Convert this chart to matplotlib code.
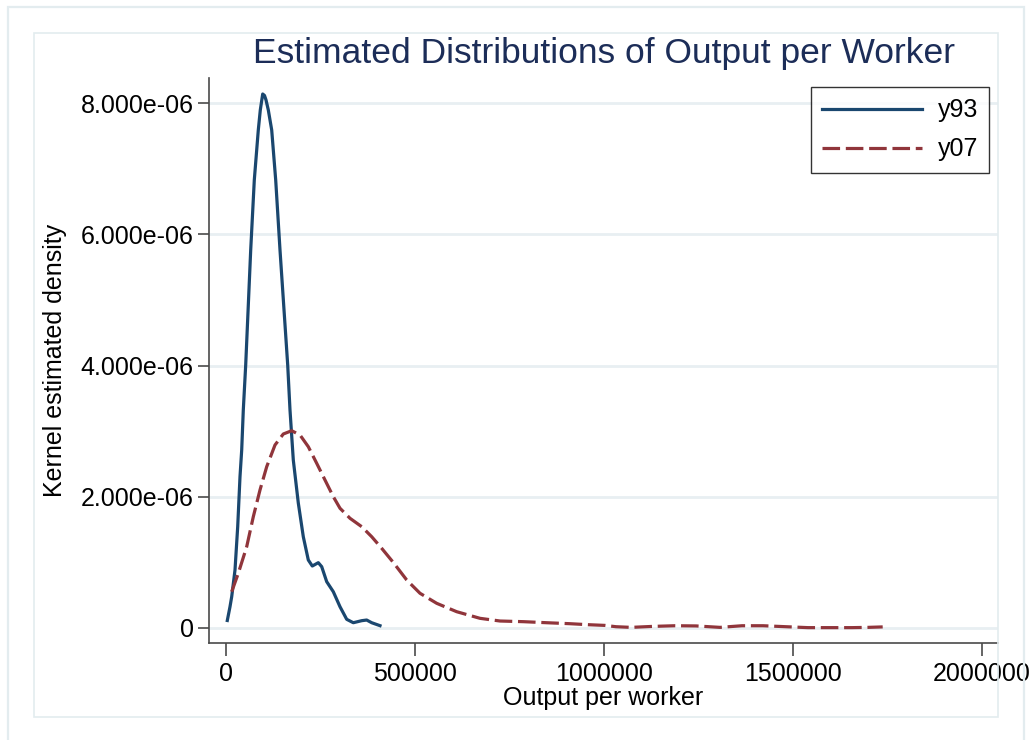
import matplotlib
matplotlib.use("Agg")
import matplotlib.pyplot as plt
from matplotlib.patches import Rectangle
from matplotlib.ticker import FuncFormatter

plt.rcParams['font.family'] = ['Liberation Sans', 'DejaVu Sans']

# Kernel density estimates, output per worker
y93_x = [3439, 10582, 15079, 23810, 30952, 37037, 41534, 45767, 52116, 65344,
         74868, 85450, 90741, 97090, 101852, 105820, 111905, 120899, 131481, 142857,
         163227, 169312, 178042, 191270, 204497, 217725, 228307, 244180, 253175, 266402,
         283862, 301587, 319312, 336772, 358994, 372222, 385449, 407407]
y93_d = [0.110, 0.320, 0.473, 0.880, 1.541, 2.304, 2.711, 3.321, 4.008, 5.762,
         6.830, 7.593, 7.898, 8.142, 8.119, 8.051, 7.898, 7.593, 6.830, 5.762,
         4.008, 3.321, 2.558, 1.902, 1.388, 1.033, 0.941, 0.992, 0.931, 0.702,
         0.549, 0.320, 0.128, 0.076, 0.107, 0.117, 0.076, 0.031]

y07_x = [15079, 32540, 54762, 72222, 89947, 107672, 129630, 151587, 173809, 195767,
         217725, 239946, 261905, 283862, 301587, 328042, 358994, 385449, 411904, 442592,
         478042, 513227, 557407, 610317, 671957, 724867, 786507, 848412, 910052, 957671,
         1002645, 1031745, 1071428, 1129629, 1187830, 1243385, 1306877, 1365078, 1420634, 1481480,
         1539681, 1597882, 1656083, 1698411, 1737290]
y07_d = [0.549, 0.830, 1.236, 1.693, 2.101, 2.456, 2.787, 2.955, 3.005, 2.940,
         2.761, 2.508, 2.253, 1.999, 1.822, 1.669, 1.541, 1.388, 1.211, 0.995,
         0.728, 0.525, 0.372, 0.244, 0.143, 0.102, 0.092, 0.076, 0.061, 0.046,
         0.035, 0.015, 0.005, 0.020, 0.030, 0.027, 0.005, 0.030, 0.030, 0.015,
         0.001, 0.001, 0.001, 0.005, 0.012]

x_ticks = [0, 500000, 1000000, 1500000, 2000000]
y_ticks = [0, 2e-6, 4e-6, 6e-6, 8e-6]

navy = '#1a476f'
maroon = '#90353b'
frame = '#e3ecef'
axis_col = '#4a4a4a'

fig = plt.figure(figsize=(10.34, 7.40), dpi=100)
W, H = 1034, 740

# graph region and plot region frames
fig.patches.append(Rectangle((8 / W, -0.05), (1024 - 8) / W, 733 / H + 0.05,
                             transform=fig.transFigure, fill=False,
                             edgecolor=frame, linewidth=1.6, zorder=0))
fig.patches.append(Rectangle((34 / W, (H - 717) / H), (998 - 34) / W, (717 - 33) / H,
                             transform=fig.transFigure, fill=False,
                             edgecolor=frame, linewidth=1.2, zorder=0))

ax = fig.add_axes([209 / W, (H - 643) / H, (998 - 209) / W, (643 - 78) / H])
ax.set_facecolor('none')

ax.plot(y93_x, [d * 1e-6 for d in y93_d], color=navy, linewidth=2.3, label='y93', zorder=3)
ax.plot(y07_x, [d * 1e-6 for d in y07_d], color=maroon, linewidth=2.3,
        dashes=(5.5, 1.8), label='y07', zorder=4)

ax.set_xlim(-44974, 2042326)
ax.set_ylim(-0.2334e-6, 8.386e-6)
ax.set_xticks(x_ticks)
ax.set_yticks(y_ticks)
ax.xaxis.set_major_formatter(FuncFormatter(lambda v, p: f'{int(round(v))}'))
ax.yaxis.set_major_formatter(FuncFormatter(lambda v, p: '0' if v == 0 else f'{v:.3e}'))

ax.yaxis.grid(True, color='#e8eff2', linewidth=2.0, zorder=0)
ax.set_axisbelow(True)

for side in ['top', 'right']:
    ax.spines[side].set_visible(False)
for side in ['left', 'bottom']:
    ax.spines[side].set_color(axis_col)
    ax.spines[side].set_linewidth(1.2)

ax.tick_params(axis='both', colors=axis_col, width=1.2, labelsize=18, labelcolor='black')
ax.tick_params(axis='y', length=8, pad=3)
ax.tick_params(axis='x', length=9, pad=5)

ax.set_xlabel('Output per worker', fontsize=18, labelpad=0)
ax.set_ylabel('Kernel estimated density', fontsize=18, labelpad=10)

fig.text(604 / W, (H - 53) / H, 'Estimated Distributions of Output per Worker',
         ha='center', va='center', fontsize=25.5, color='#1c2d58')

leg = ax.legend(loc='upper right', bbox_to_anchor=(989 / W, (H - 87) / H),
                bbox_transform=fig.transFigure, fontsize=18, frameon=True,
                fancybox=False, edgecolor='black', handlelength=4.0,
                handletextpad=0.6, borderpad=0.45, labelspacing=0.6,
                borderaxespad=0)
leg.get_frame().set_linewidth(1.0)

fig.savefig('out.png', dpi=100)
